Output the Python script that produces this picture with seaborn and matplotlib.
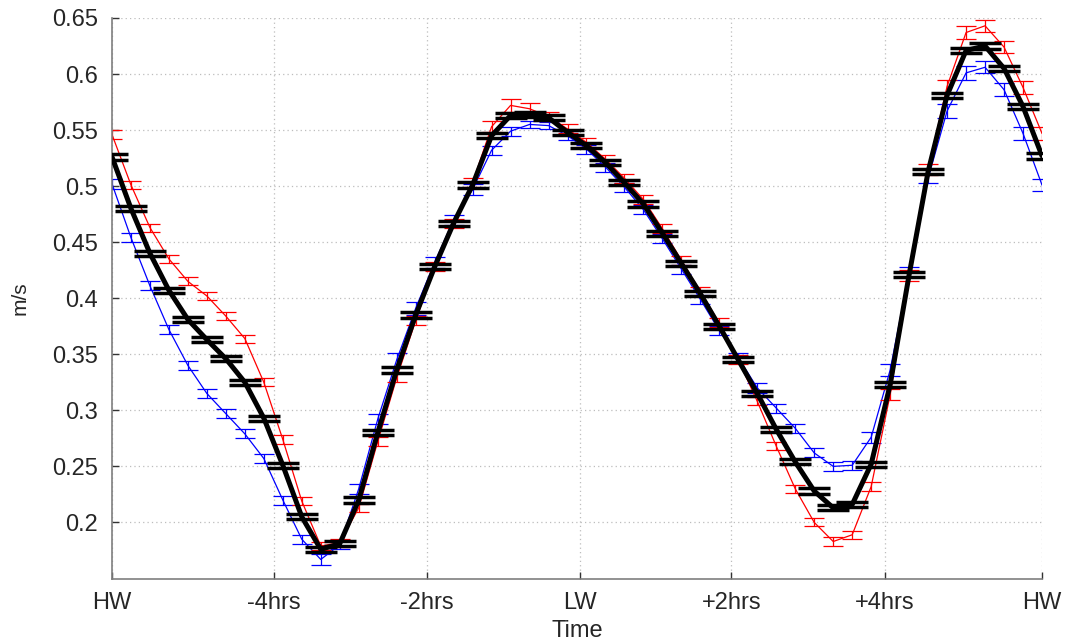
import numpy as np
import pandas as pd
import seaborn as sns
import matplotlib
matplotlib.use("Agg")
import matplotlib.pyplot as plt

# Current speed over one tidal cycle, sampled every 15 minutes from HW to HW
time_hrs = [i * 0.25 for i in range(50)]

speed_mean = [0.526, 0.480, 0.440, 0.407, 0.381, 0.363, 0.346, 0.325, 0.293, 0.251,
              0.205, 0.176, 0.181, 0.220, 0.280, 0.336, 0.385, 0.428, 0.467, 0.501,
              0.545, 0.563, 0.564, 0.561, 0.548, 0.536, 0.521, 0.503, 0.484, 0.458,
              0.431, 0.404, 0.375, 0.345, 0.315, 0.283, 0.254, 0.228, 0.213, 0.216,
              0.252, 0.323, 0.421, 0.513, 0.581, 0.621, 0.625, 0.605, 0.571, 0.527]
speed_red = [0.546, 0.501, 0.463, 0.435, 0.415, 0.402, 0.384, 0.364, 0.325, 0.274,
             0.219, 0.179, 0.182, 0.213, 0.272, 0.329, 0.380, 0.428, 0.467, 0.503,
             0.553, 0.572, 0.569, 0.562, 0.551, 0.539, 0.524, 0.507, 0.488, 0.462,
             0.434, 0.406, 0.378, 0.345, 0.308, 0.268, 0.230, 0.200, 0.183, 0.189,
             0.232, 0.314, 0.420, 0.515, 0.589, 0.637, 0.643, 0.624, 0.588, 0.547]
speed_blue = [0.502, 0.454, 0.411, 0.372, 0.340, 0.315, 0.297, 0.279, 0.257, 0.220,
              0.185, 0.167, 0.180, 0.230, 0.292, 0.345, 0.391, 0.432, 0.470, 0.497,
              0.532, 0.549, 0.555, 0.554, 0.545, 0.533, 0.517, 0.499, 0.479, 0.453,
              0.426, 0.399, 0.371, 0.347, 0.320, 0.302, 0.284, 0.262, 0.250, 0.251,
              0.276, 0.336, 0.423, 0.507, 0.567, 0.601, 0.606, 0.586, 0.547, 0.501]

err_mean = [0.0023, 0.0023, 0.0023, 0.0023, 0.0023, 0.0023, 0.0023, 0.0023, 0.0023, 0.0023,
            0.0023, 0.0023, 0.0023, 0.0023, 0.0023, 0.0023, 0.0023, 0.0023, 0.0023, 0.0023,
            0.0023, 0.0024, 0.0024, 0.0023, 0.0023, 0.0023, 0.0023, 0.0023, 0.0023, 0.0023,
            0.0023, 0.0023, 0.0023, 0.0023, 0.0023, 0.0023, 0.0023, 0.0023, 0.0023, 0.0023,
            0.0023, 0.0023, 0.0023, 0.0023, 0.0024, 0.0024, 0.0024, 0.0024, 0.0024, 0.0024]
err_red = [0.0040, 0.0036, 0.0036, 0.0035, 0.0035, 0.0036, 0.0036, 0.0036, 0.0036, 0.0036,
           0.0036, 0.0036, 0.0036, 0.0036, 0.0040, 0.0040, 0.0038, 0.0040, 0.0040, 0.0040,
           0.0050, 0.0055, 0.0050, 0.0040, 0.0040, 0.0040, 0.0040, 0.0040, 0.0040, 0.0040,
           0.0040, 0.0040, 0.0040, 0.0040, 0.0036, 0.0036, 0.0036, 0.0036, 0.0036, 0.0036,
           0.0040, 0.0050, 0.0050, 0.0050, 0.0055, 0.0055, 0.0055, 0.0055, 0.0055, 0.0055]
err_blue = [0.0045, 0.0040, 0.0040, 0.0040, 0.0040, 0.0040, 0.0040, 0.0040, 0.0040, 0.0040,
            0.0040, 0.0050, 0.0040, 0.0045, 0.0045, 0.0060, 0.0060, 0.0050, 0.0045, 0.0045,
            0.0040, 0.0040, 0.0030, 0.0030, 0.0040, 0.0040, 0.0040, 0.0040, 0.0040, 0.0040,
            0.0040, 0.0040, 0.0040, 0.0040, 0.0045, 0.0040, 0.0040, 0.0040, 0.0040, 0.0040,
            0.0050, 0.0055, 0.0045, 0.0040, 0.0065, 0.0060, 0.0055, 0.0060, 0.0055, 0.0055]

tick_pos = [0.0, 2.13, 4.15, 6.16, 8.16, 10.18, 12.25]
tick_labels = ["HW", "-4hrs", "-2hrs", "LW", "+2hrs", "+4hrs", "HW"]
ytick_vals = [0.2, 0.25, 0.3, 0.35, 0.4, 0.45, 0.5, 0.55, 0.6, 0.65]
ytick_labels = ["0.2", "0.25", "0.3", "0.35", "0.4", "0.45", "0.5", "0.55", "0.6", "0.65"]

sns.set_theme(style="white")
plt.rcParams["font.family"] = ["Liberation Sans", "DejaVu Sans"]

df = pd.concat([
    pd.DataFrame({"time": time_hrs, "speed": speed_blue, "err": err_blue, "series": "blue"}),
    pd.DataFrame({"time": time_hrs, "speed": speed_red, "err": err_red, "series": "red"}),
    pd.DataFrame({"time": time_hrs, "speed": speed_mean, "err": err_mean, "series": "mean"}),
], ignore_index=True)

palette = {"blue": "#0000ff", "red": "#ff0000", "mean": "#000000"}
widths = {"blue": 0.9, "red": 0.9, "mean": 3.6}
elw = {"blue": 0.9, "red": 0.9, "mean": 2.0}
caps = {"blue": 7.5, "red": 7.5, "mean": 11.5}
capthick = {"blue": 0.9, "red": 0.9, "mean": 2.5}

fig = plt.figure(figsize=(10.78, 6.41), dpi=100)
ax = fig.add_axes([0.1039, 0.0975, 0.8627, 0.8745])

for name in ["blue", "red", "mean"]:
    sub = df[df["series"] == name]
    z = 3 if name == "mean" else 2
    sns.lineplot(data=sub, x="time", y="speed", color=palette[name],
                 linewidth=widths[name], ax=ax, legend=False, zorder=z)
    ax.errorbar(sub["time"], sub["speed"], yerr=sub["err"], fmt="none",
                ecolor=palette[name], elinewidth=elw[name],
                capsize=caps[name], capthick=capthick[name], zorder=z)

ax.set_xlim(0, 12.25)
ax.set_ylim(0.15, 0.65)
ax.set_xticks(tick_pos)
ax.set_xticklabels(tick_labels)
ax.set_yticks(ytick_vals)
ax.set_yticklabels(ytick_labels)
ax.set_xlabel("Time", fontsize=17, labelpad=4)
ax.set_ylabel("m/s", fontsize=15, labelpad=16)

ax.grid(True, linestyle=(0, (1, 2.5)), color="#bdbdbd", linewidth=0.9)
ax.set_axisbelow(True)
for side in ["top", "right"]:
    ax.spines[side].set_visible(False)
for side in ["left", "bottom"]:
    ax.spines[side].set_color("#7f7f7f")
    ax.spines[side].set_linewidth(1.2)
ax.tick_params(axis="both", direction="in", length=5, width=1, color="#333333",
               labelsize=17, pad=10, left=True, bottom=True)

fig.savefig("out.png", dpi=100)
